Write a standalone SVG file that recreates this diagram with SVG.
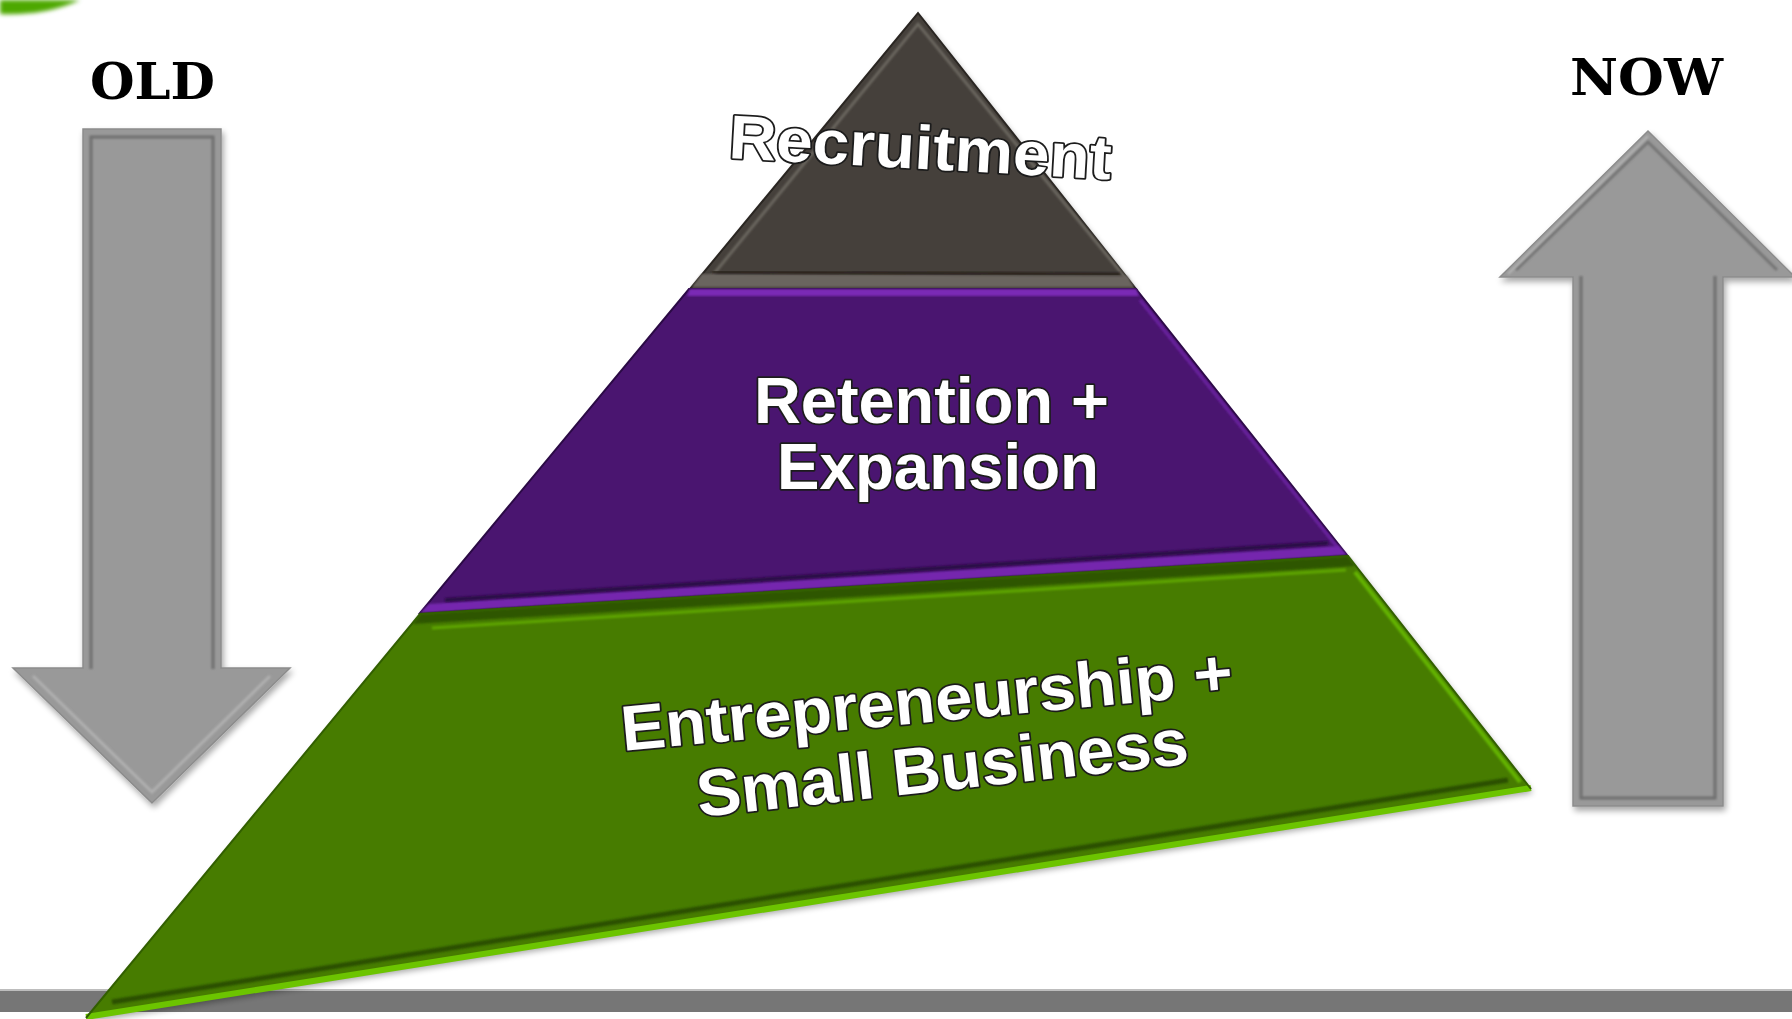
<svg xmlns="http://www.w3.org/2000/svg" width="1792" height="1019" viewBox="0 0 1792 1019">
<defs>
<style>
.lbl{font-family:"Liberation Sans",Arial,sans-serif;font-weight:bold;fill:#ffffff;stroke:#1c1c1c;stroke-width:3.5;paint-order:stroke fill;stroke-linejoin:round}
.hdr{font-family:"DejaVu Serif","Liberation Serif",serif;font-weight:bold;fill:#000000}
.arrow{fill:#999999;stroke:#8c8c8c;stroke-width:1.5;stroke-linejoin:miter}
.bevel{fill:none;stroke:#6f6f6f;stroke-width:3;stroke-linejoin:miter}
</style>
<filter id="shadow" x="-10%" y="-10%" width="130%" height="130%">
<feGaussianBlur in="SourceAlpha" stdDeviation="3"/>
<feOffset dx="2" dy="4" result="b"/>
<feComponentTransfer><feFuncA type="linear" slope="0.35"/></feComponentTransfer>
<feMerge><feMergeNode/><feMergeNode in="SourceGraphic"/></feMerge>
</filter>
<filter id="soft" x="-5%" y="-5%" width="110%" height="110%"><feGaussianBlur stdDeviation="1.2"/></filter>
<filter id="blurg" x="-50%" y="-50%" width="200%" height="200%"><feGaussianBlur stdDeviation="2"/></filter>
</defs>
<rect width="1792" height="1019" fill="#ffffff"/>

<!-- decorative corner -->
<path d="M0,0 L80,0 Q45,16 0,14 Z" fill="#4ea800" filter="url(#blurg)"/>

<!-- bottom bar -->
<rect x="0" y="990" width="1792" height="22" fill="#767676"/>
<rect x="0" y="989" width="1792" height="2" fill="#bdbdbd"/>

<!-- OLD arrow -->
<g id="old-arrow">
<polygon class="arrow" filter="url(#shadow)" points="83,129 221,129 221,668 290,668 152,803 13,668 83,668"/>
<polyline class="bevel" filter="url(#soft)" points="91,669 91,137 213,137 213,669"/>
<polyline fill="none" stroke="#555" stroke-width="4" filter="url(#soft)" points="216,134 216,668"/>
<polyline fill="none" stroke="#b0b0b0" stroke-width="3" filter="url(#soft)" points="33,676 152,792 270,676"/>
<polyline fill="none" stroke="#777" stroke-width="2.5" filter="url(#soft)" points="26,673 91,673 M213,673 277,673"/>
<text class="hdr" x="90" y="99" font-size="50" textLength="125" lengthAdjust="spacingAndGlyphs">OLD</text>
</g>

<!-- NOW arrow -->
<g id="now-arrow">
<polygon class="arrow" filter="url(#shadow)" points="1648,131 1795,277 1723,277 1723,806 1573,806 1573,277 1500,277"/>
<polyline class="bevel" filter="url(#soft)" points="1581,276 1581,798 1715,798 1715,276"/>
<polyline fill="none" stroke="#555" stroke-width="4" filter="url(#soft)" points="1719,280 1719,802"/>
<polyline fill="none" stroke="#757575" stroke-width="3" filter="url(#soft)" points="1516,270 1648,142 1777,270"/>
<polyline fill="none" stroke="#b5b5b5" stroke-width="2" filter="url(#soft)" points="1508,274 1648,136"/>
<text class="hdr" x="1570" y="95" font-size="50" textLength="153" lengthAdjust="spacingAndGlyphs">NOW</text>
</g>

<!-- Pyramid -->
<g id="recruitment">
<polygon points="918,13 1136,289 690,289" fill="#45403b" filter="url(#shadow)"/>
<polygon points="918,13 1136,289 690,289" fill="none" stroke="#2a2622" stroke-width="2"/>
<polyline fill="none" stroke="#6b665f" stroke-width="3" filter="url(#soft)" points="708,281 918,24 1128,281"/>
<polygon points="702,274 1127,276 1134,287 692,287" fill="#6a655e" filter="url(#soft)"/>
<line x1="712" y1="272" x2="1120" y2="274" stroke="#29241f" stroke-width="3" filter="url(#soft)"/>
<text class="lbl" font-size="62" textLength="383" lengthAdjust="spacingAndGlyphs" transform="translate(728,158) rotate(3.2)">Recruitment</text>
</g>

<g id="retention">
<polygon points="689,289 1136,289 1347,555 420,613" fill="#4a1570"/>
<polygon points="689,289 1136,289 1347,555 420,613" fill="none" stroke="#2b0a45" stroke-width="2"/>
<polygon points="690,289 1136,289 1139,296 687,296" fill="#7a2cb5" filter="url(#soft)"/>
<line x1="694" y1="299" x2="1133" y2="299" stroke="#2d0b48" stroke-width="3" filter="url(#soft)"/>
<polyline fill="none" stroke="#6a24a0" stroke-width="3" filter="url(#soft)" points="1140,300 1338,548"/>
<polygon points="429,604 1339,546 1347,555 420,613" fill="#7428ae" filter="url(#soft)"/>
<line x1="445" y1="600" x2="1328" y2="543" stroke="#2a0a45" stroke-width="4" filter="url(#soft)"/>
<text class="lbl" x="754" y="423" font-size="64" textLength="355" lengthAdjust="spacingAndGlyphs">Retention +</text>
<text class="lbl" x="777" y="489" font-size="64" textLength="322" lengthAdjust="spacingAndGlyphs">Expansion</text>
</g>

<g id="entrepreneurship">
<polygon points="420,614 1348,556 1531,789 86,1018" fill="#467b00" filter="url(#shadow)"/>
<polygon points="420,614 1348,556 1355,566 413,624" fill="#2e5600" filter="url(#soft)"/>
<line x1="432" y1="628" x2="1346" y2="570" stroke="#5ea600" stroke-width="3" filter="url(#soft)"/>
<polyline fill="none" stroke="#64b400" stroke-width="4" filter="url(#soft)" points="1355,572 1520,782"/>
<line x1="112" y1="1002" x2="1508" y2="780" stroke="#2b5000" stroke-width="5" filter="url(#soft)"/>
<line x1="86" y1="1017" x2="1531" y2="788" stroke="#6cc400" stroke-width="6"/>
<polyline fill="none" stroke="#325f00" stroke-width="2" points="86,1018 420,614 1348,556 1531,789"/>
<text class="lbl" font-size="64" textLength="614" lengthAdjust="spacingAndGlyphs" transform="translate(623,751) rotate(-5.4)">Entrepreneurship +</text>
<text class="lbl" font-size="66" textLength="494" lengthAdjust="spacingAndGlyphs" transform="translate(699,817) rotate(-6.2)">Small Business</text>
</g>
</svg>
